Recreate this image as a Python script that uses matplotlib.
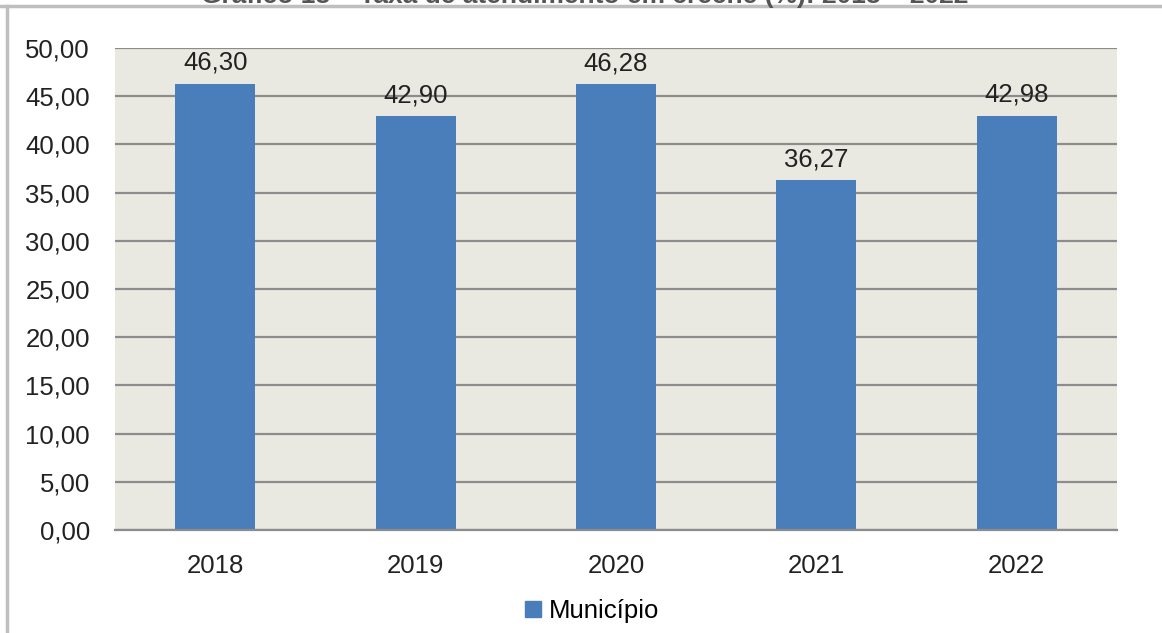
import matplotlib.pyplot as plt
from matplotlib.ticker import FuncFormatter, MultipleLocator
from matplotlib.patches import Patch
from matplotlib.lines import Line2D

anos = ["2018", "2019", "2020", "2021", "2022"]
taxa = [46.30, 42.90, 46.28, 36.27, 42.98]
serie = "Município"
titulo = "Gráfico 18 – Taxa de atendimento em creche (%): 2018 – 2022"

plt.rcParams["font.family"] = ["Liberation Sans", "DejaVu Sans"]

azul = "#4a7ebb"
grade = "#8c8c8c"
fs = 18.5

fig = plt.figure(figsize=(11.62, 6.33), dpi=100)
ax = fig.add_axes([115 / 1162, 1 - 530 / 633, (1117 - 115) / 1162, (530 - 48) / 633])
ax.set_facecolor("#eae9e1")

x = range(len(anos))
bars = ax.bar(x, taxa, width=0.4, color=azul, zorder=3)
for b, v in zip(bars, taxa):
    ax.text(b.get_x() + b.get_width() / 2, v + 0.9, f"{v:.2f}".replace(".", ","),
            ha="center", va="bottom", fontsize=fs, color="#222222", zorder=4)

ax.set_xlim(-0.5, len(anos) - 0.5)
ax.set_ylim(0, 50)
ax.yaxis.set_major_locator(MultipleLocator(5))
ax.yaxis.set_major_formatter(FuncFormatter(lambda v, p: f"{v:.2f}".replace(".", ",")))
ax.set_xticks(list(x))
ax.set_xticklabels(anos)
ax.grid(axis="y", color=grade, linewidth=1.6, zorder=1)
ax.tick_params(axis="both", length=0, labelsize=fs, colors="#222222")
ax.tick_params(axis="y", pad=18)
ax.tick_params(axis="x", pad=17)
for s in ["top", "right", "left"]:
    ax.spines[s].set_visible(False)
ax.spines["bottom"].set_color(grade)
ax.spines["bottom"].set_linewidth(1.6)
ax.spines["bottom"].set_zorder(5)

fig.legend(handles=[Patch(color=azul)], labels=[serie], loc="center",
           bbox_to_anchor=(592 / 1162, 1 - 611 / 633), frameon=False,
           fontsize=fs, handlelength=0.6, handleheight=0.6, handletextpad=0.3)

# moldura cortada e titulo parcialmente visivel no topo (como no recorte original)
fig.add_artist(Line2D([0, 1160 / 1162], [1 - 6 / 633] * 2, color="#bfbfbf", lw=2.5))
fig.add_artist(Line2D([7 / 1162] * 2, [0, 1 - 6 / 633], color="#bfbfbf", lw=2.5))
fig.text(585 / 1162, 1 - 3 / 633, titulo, ha="center", va="baseline",
         fontsize=19, color="#555555", fontweight="bold")

fig.savefig("out.png", dpi=100)
